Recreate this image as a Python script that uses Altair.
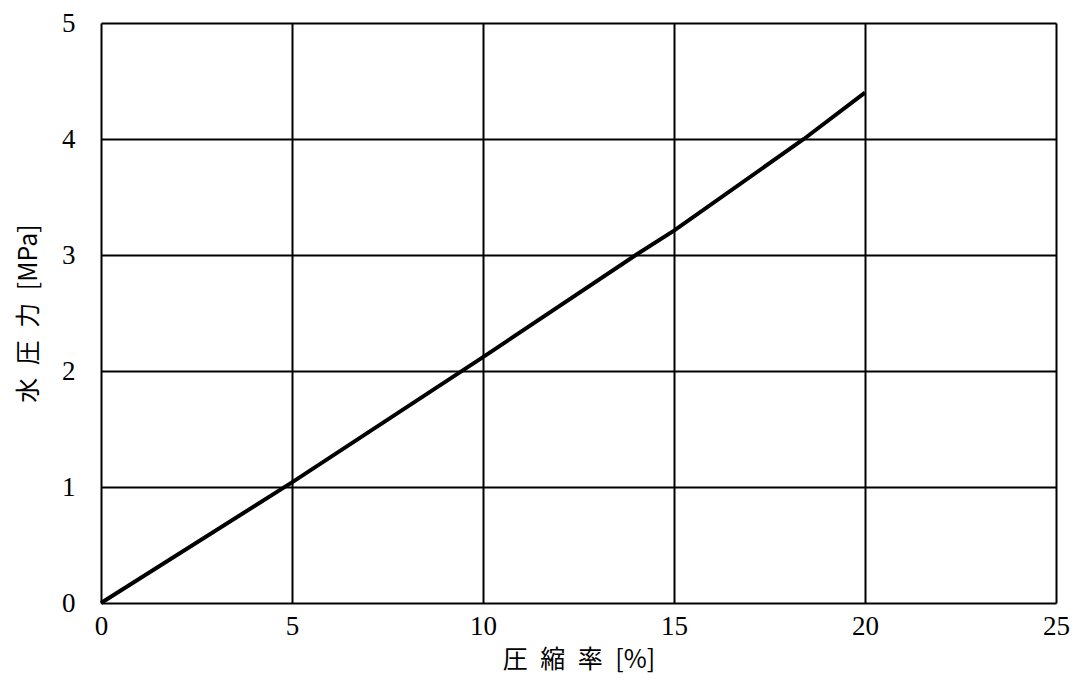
import altair as alt
import pandas as pd

compression = [0, 5, 10, 14, 15, 18.4, 20]
pressure = [0, 1.04, 2.12, 3.0, 3.21, 4.0, 4.4]

df = pd.DataFrame({"x": compression, "y": pressure})

serif = "Liberation Serif, Times New Roman, Times, serif"
cjk = "Noto Sans CJK JP"
sp = "\u2002"

line = alt.Chart(df).mark_line(color="black", strokeWidth=4).encode(
    x=alt.X("x:Q", scale=alt.Scale(domain=[0, 25], nice=False),
            axis=alt.Axis(values=[0, 5, 10, 15, 20, 25], title=f"圧{sp}縮{sp}率{sp}[%]",
                          labelFont=serif, labelFontSize=27, labelColor="black",
                          labelPadding=10, ticks=False, domain=False, labelFlush=False,
                          titleFont=cjk, titleFontSize=25, titleFontWeight="normal",
                          titleColor="black", titlePadding=8,
                          grid=True, gridColor="black", gridWidth=2, gridOpacity=1)),
    y=alt.Y("y:Q", scale=alt.Scale(domain=[0, 5], nice=False),
            axis=alt.Axis(values=[0, 1, 2, 3, 4, 5], title=f"水{sp}圧{sp}力{sp}[MPa]",
                          labelFont=serif, labelFontSize=27, labelColor="black",
                          labelPadding=26, ticks=False, domain=False, labelFlush=False,
                          titleFont=cjk, titleFontSize=25, titleFontWeight="normal",
                          titleColor="black", titlePadding=20,
                          grid=True, gridColor="black", gridWidth=2, gridOpacity=1)),
)

chart = line.properties(
    width=955, height=580,
    autosize=alt.AutoSizeParams(type="none"),
    padding={"left": 93, "top": 15, "right": 16, "bottom": 80},
).configure_view(stroke="black", strokeWidth=2).configure(background="white")

chart.save("out.html", embed_options={"renderer": "svg", "actions": False})
